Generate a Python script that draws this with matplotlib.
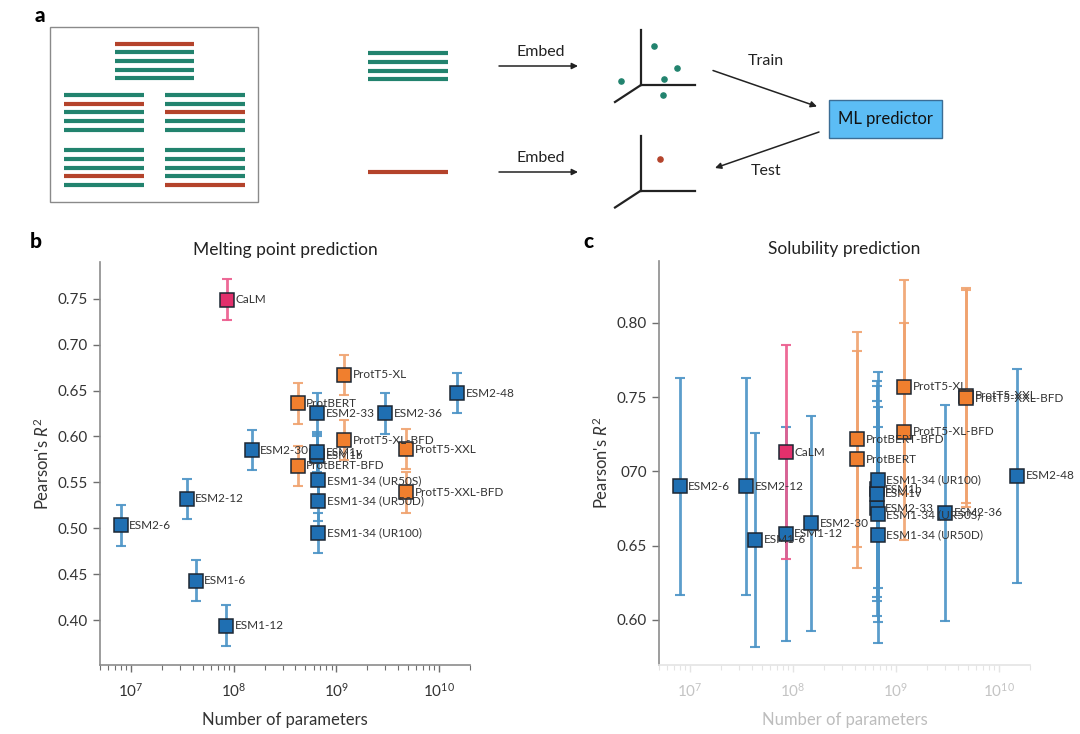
import matplotlib
matplotlib.use("Agg")
import matplotlib.pyplot as plt
from matplotlib.patches import Rectangle
from matplotlib.ticker import FixedLocator, FixedFormatter

plt.rcParams["font.family"] = ["Lato", "DejaVu Sans"]
plt.rcParams["mathtext.fontset"] = "custom"
plt.rcParams["mathtext.rm"] = "Lato"
plt.rcParams["mathtext.it"] = "Lato:italic"

# ---- datos ----
modelos = ["ESM2-6", "ESM2-12", "ESM1-6", "ESM1-12", "CaLM", "ESM2-30",
           "ProtBERT", "ProtBERT-BFD", "ESM2-33", "ESM1b", "ESM1v",
           "ESM1-34 (UR50S)", "ESM1-34 (UR50D)", "ESM1-34 (UR100)",
           "ProtT5-XL", "ProtT5-XL-BFD", "ESM2-36", "ProtT5-XXL",
           "ProtT5-XXL-BFD", "ESM2-48"]
familia = ["esm", "esm", "esm", "esm", "calm", "esm",
           "prot", "prot", "esm", "esm", "esm",
           "esm", "esm", "esm",
           "prot", "prot", "esm", "prot",
           "prot", "esm"]
parametros = [8e6, 35e6, 43e6, 85e6, 86e6, 150e6,
              420e6, 420e6, 650e6, 650e6, 650e6,
              670e6, 670e6, 670e6,
              1.2e9, 1.2e9, 3e9, 4.8e9,
              4.8e9, 15e9]

r2_fusion = [0.503, 0.532, 0.443, 0.394, 0.749, 0.585,
             0.636, 0.568, 0.625, 0.579, 0.583,
             0.552, 0.530, 0.495,
             0.667, 0.596, 0.625, 0.586,
             0.539, 0.647]
err_fusion = [0.022] * len(modelos)

r2_solub = [0.690, 0.690, 0.654, 0.658, 0.713, 0.665,
            0.708, 0.7215, 0.675, 0.688, 0.685,
            0.671, 0.657, 0.694,
            0.757, 0.7265, 0.672, 0.751,
            0.749, 0.697]
err_solub = [0.073, 0.073, 0.072, 0.072, 0.072, 0.0725,
             0.073, 0.0725, 0.0725, 0.0725, 0.0725,
             0.0725, 0.0725, 0.0725,
             0.072, 0.073, 0.0725, 0.072,
             0.073, 0.072]

colores_marca = {"esm": "#1f6fb2", "prot": "#f07f2e", "calm": "#e3306c"}
colores_barra = {"esm": "#4a93c6", "prot": "#f0a26e", "calm": "#ec5a8c"}

W, H = 1080, 734
fig = plt.figure(figsize=(W / 100, H / 100), dpi=100)


def caja(x0, y0, x1, y1):
    # rectangulo en pixeles (origen arriba) -> fraccion de figura
    return [x0 / W, 1 - y1 / H, (x1 - x0) / W, (y1 - y0) / H]


# ---- panel a: esquema ----
ax_a = fig.add_axes(caja(0, 0, W, 220))
ax_a.set_xlim(0, W)
ax_a.set_ylim(220, 0)
ax_a.axis("off")

verde = "#22836e"
rojo = "#b4432b"
ax_a.add_patch(Rectangle((50, 27), 208, 175, fill=False, ec="#8a8a8a", lw=1))

grupos = [
    (115, 194, [43.7, 52.3, 61, 69.5, 78], [rojo, verde, verde, verde, verde]),
    (64, 144, [95, 103.7, 112.3, 121, 129.5], [verde, rojo, verde, verde, verde]),
    (165, 245, [95, 103.7, 112.3, 121, 129.5], [verde, verde, rojo, verde, verde]),
    (64, 144, [150.3, 159, 167.5, 176, 184.7], [verde, verde, verde, rojo, verde]),
    (165, 245, [150.3, 159, 167.5, 176, 184.7], [verde, verde, verde, verde, rojo]),
    (368, 448, [53.3, 62, 70.7, 79.3], [verde, verde, verde, verde]),
    (368, 448, [172.3], [rojo]),
]
for xa, xb, ys, cs in grupos:
    for yy, cc in zip(ys, cs):
        ax_a.plot([xa, xb], [yy, yy], color=cc, lw=3, solid_capstyle="butt")

flecha = dict(arrowstyle="-|>", color="#222222", lw=1.1, mutation_scale=9,
              shrinkA=0, shrinkB=0)
for yy in (66, 172):
    ax_a.annotate("", xy=(578, yy), xytext=(499, yy), arrowprops=flecha)
    ax_a.text(541, yy - 7, "Embed", ha="center", va="bottom", fontsize=11.5,
              color="#222222")

for y0 in (85, 190.5):
    ax_a.plot([641, 641], [y0 - 55, y0], color="#222222", lw=1.6)
    ax_a.plot([641, 695], [y0, y0], color="#222222", lw=1.6)
    ax_a.plot([641, 615], [y0, y0 + 17], color="#222222", lw=1.6)

puntos_x = [654, 621, 677, 664, 663]
puntos_y = [46, 81, 67.7, 79, 94.7]
ax_a.scatter(puntos_x, puntos_y, s=14, color=verde, zorder=3)
ax_a.scatter([660], [159.3], s=14, color=rojo, zorder=3)

ax_a.annotate("", xy=(817, 106.5), xytext=(713, 70.5), arrowprops=flecha)
ax_a.annotate("", xy=(715, 168), xytext=(819, 132), arrowprops=flecha)
ax_a.text(766, 61, "Train", ha="center", va="center", fontsize=11.5, color="#222222")
ax_a.text(766, 171, "Test", ha="center", va="center", fontsize=11.5, color="#222222")

ax_a.add_patch(Rectangle((829, 100), 113, 38, fc="#5cbdf5", ec="#3b6d95", lw=1))
ax_a.text(885.5, 119, "ML predictor", ha="center", va="center", fontsize=12,
          color="#111111")
ax_a.text(40, 15, "a", ha="center", va="center", fontsize=15, fontweight="black")


# ---- paneles b y c ----
def dibujar_panel(ax, valores, errores, titulo, ylim, yticks, yetiq, borroso=False):
    for i in range(len(modelos)):
        fam = familia[i]
        ax.errorbar(parametros[i], valores[i], yerr=errores[i], fmt="none",
                    ecolor=colores_barra[fam], elinewidth=2, capsize=3.5,
                    capthick=1.5, alpha=0.9, zorder=2)
    for i in range(len(modelos)):
        fam = familia[i]
        ax.plot(parametros[i], valores[i], "s", ms=10, mfc=colores_marca[fam],
                mec="#1d2733", mew=1.1, zorder=3)
        ax.annotate(modelos[i], (parametros[i], valores[i]), xytext=(6, 0),
                    textcoords="offset points", va="center", ha="left",
                    fontsize=8.5, color="#333333", zorder=4)

    ax.set_xscale("log")
    ax.set_xlim(5e6, 2e10)
    ax.set_ylim(*ylim)
    ax.yaxis.set_major_locator(FixedLocator(yticks))
    ax.yaxis.set_major_formatter(FixedFormatter(yetiq))
    ax.spines["top"].set_visible(False)
    ax.spines["right"].set_visible(False)
    for s in ("left", "bottom"):
        ax.spines[s].set_color("#8c8c8c")
        ax.spines[s].set_linewidth(1.2)
    ax.tick_params(axis="both", which="major", length=5, width=1,
                   color="#6e6e6e", labelsize=11, labelcolor="#333333")
    ax.tick_params(axis="x", which="major", pad=7)
    ax.tick_params(axis="x", which="minor", length=3.5, width=0.8, color="#6e6e6e")
    ax.set_title(titulo, fontsize=12.5, color="#222222", pad=5)
    ax.set_ylabel("Pearson's $R^2$", fontsize=12, color="#333333")
    ax.set_xlabel("Number of parameters", fontsize=12, color="#333333", labelpad=9)
    if borroso:
        # eje x difuminado en la figura original
        ax.spines["bottom"].set_color("#e4e4e4")
        ax.tick_params(axis="x", which="both", color="#e4e4e4", labelcolor="#c4c4c4")
        ax.xaxis.label.set_color("#bdbdbd")


ax_b = fig.add_axes(caja(100, 262, 470, 665))
dibujar_panel(ax_b, r2_fusion, err_fusion, "Melting point prediction",
              (0.351, 0.79),
              [0.40, 0.45, 0.50, 0.55, 0.60, 0.65, 0.70, 0.75],
              ["0.40", "0.45", "0.50", "0.55", "0.60", "0.65", "0.70", "0.75"])

ax_c = fig.add_axes(caja(659, 261, 1030, 665))
dibujar_panel(ax_c, r2_solub, err_solub, "Solubility prediction",
              (0.5697, 0.8415),
              [0.60, 0.65, 0.70, 0.75, 0.80],
              ["0.60", "0.65", "070", "0.75", "0.80"], borroso=True)

fig.text(30 / W, 1 - 242 / H, "b", fontsize=15, fontweight="black", va="center")
fig.text(583 / W, 1 - 242 / H, "c", fontsize=15, fontweight="black", va="center")

plt.savefig("out.png", dpi=100)
